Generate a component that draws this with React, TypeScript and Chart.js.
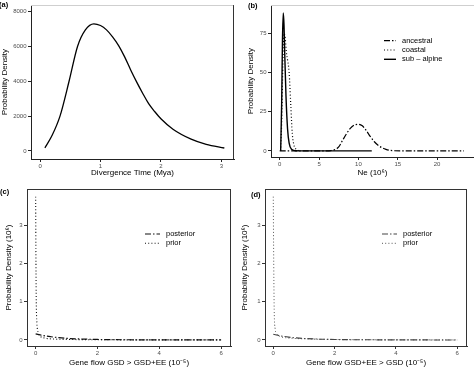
import React, { useEffect, useRef } from "react";
import { Chart, registerables } from "chart.js";
Chart.register(...registerables);

const FONT = "'Liberation Sans', Arial, Helvetica, sans-serif";

// ---------- Panel (a): divergence time ----------
const divTimeX = [0.08, 0.2, 0.33, 0.48, 0.62, 0.75, 0.89, 1.0, 1.1, 1.2, 1.3, 1.4, 1.5, 1.6, 1.7, 1.8, 1.9, 2.0, 2.2, 2.5, 2.75, 3.05];
const divTimeDensity = [180, 900, 2000, 4000, 6000, 6950, 7300, 7200, 6950, 6550, 6050, 5400, 4650, 3950, 3300, 2700, 2250, 1850, 1250, 680, 380, 170];
const divTimeXTicks = [0, 1, 2, 3];
const divTimeYTicks = [0, 2000, 4000, 6000, 8000];

// ---------- Panel (b): Ne ----------
const neAncestralX = [0, 6, 6.5, 7, 7.5, 8, 8.5, 9, 9.5, 10, 10.5, 11, 11.5, 12, 12.5, 13, 13.5, 14, 14.5, 15.5, 23.4];
const neAncestralY = [0, 0, 0.2, 0.8, 2.5, 6.8, 11, 14.5, 16.5, 17, 16, 13, 9.2, 6, 3.6, 2, 1, 0.4, 0.1, 0, 0];
const neCoastalX = [0.12, 0.25, 0.4, 0.55, 0.7, 0.85, 1.0, 1.2, 1.4, 1.6, 1.8, 2.1, 2.5];
const neCoastalY = [0, 18, 55, 75, 72, 63, 58, 50, 30, 11, 4, 1, 0];
const neSubAlpineX = [0.12, 0.25, 0.35, 0.45, 0.55, 0.65, 0.8, 1.0, 1.2, 1.5, 2.0, 2.5, 11.7];
const neSubAlpineY = [0, 30, 70, 88, 80, 60, 35, 14, 5, 1, 0.1, 0, 0];
const neXTicks = [0, 5, 10, 15, 20];
const neYTicks = [0, 25, 50, 75];

// ---------- Panel (c): gene flow GSD > GSD+EE ----------
const gfcPosteriorX = [0, 0.1, 0.25, 0.5, 0.75, 1, 1.5, 2, 3, 4, 5, 6];
const gfcPosteriorY = [0.16, 0.14, 0.115, 0.085, 0.06, 0.043, 0.025, 0.014, 0.006, 0.003, 0.002, 0.001];
const gfcPriorX = [0, 0.01, 0.02, 0.04, 0.08, 0.15, 0.3, 0.6, 1, 2, 4, 6];
const gfcPriorY = [3.75, 2.0, 1.0, 0.45, 0.2, 0.1, 0.05, 0.025, 0.015, 0.007, 0.003, 0.002];

// ---------- Panel (d): gene flow GSD+EE > GSD ----------
const gfdPosteriorX = [0, 0.1, 0.25, 0.5, 0.75, 1, 1.5, 2, 3, 4, 5, 6];
const gfdPosteriorY = [0.15, 0.13, 0.105, 0.075, 0.055, 0.04, 0.023, 0.013, 0.006, 0.003, 0.002, 0.001];
const gfdPriorX = [0, 0.01, 0.03, 0.06, 0.1, 0.2, 0.4, 0.7, 1, 1.5, 2, 3, 4, 6];
const gfdPriorY = [3.75, 2.5, 0.8, 0.3, 0.18, 0.1, 0.06, 0.04, 0.03, 0.02, 0.013, 0.007, 0.004, 0.002];

const gfXTicks = [0, 2, 4, 6];
const gfYTicks = [0, 1, 2, 3];

const DOTDASH = [6, 2, 1.5, 2];
const DOTTED = [1, 2.2];

type Series = { label: string; x: number[]; y: number[]; color: string; width: number; dash: number[] };

type PanelSpec = {
  left: number; top: number; w: number; h: number;
  pad: { left: number; top: number; right: number; bottom: number };
  yW: number; xH: number;
  xMin: number; xMax: number; yMin: number; yMax: number;
  xTicks: number[]; yTicks: number[];
  xTitle: string; yTitle: string; xTitlePad: number; yTitlePad: number;
  series: Series[];
  legend?: { x: number; y: number; gap: number; len: number };
  box: { top: string; right: string | null };
  axisColor: string;
};

const boxPlugin = {
  id: "panelBox",
  afterDraw(chart: any, _a: any, opts: any) {
    const { ctx, chartArea: a } = chart;
    ctx.save();
    ctx.lineWidth = 1;
    ctx.setLineDash([]);
    if (opts.top) {
      ctx.strokeStyle = opts.top;
      ctx.beginPath();
      ctx.moveTo(a.left, Math.round(a.top) + 0.5);
      ctx.lineTo(a.right, Math.round(a.top) + 0.5);
      ctx.stroke();
    }
    if (opts.right) {
      ctx.strokeStyle = opts.right;
      ctx.beginPath();
      ctx.moveTo(Math.round(a.right) - 0.5, a.top);
      ctx.lineTo(Math.round(a.right) - 0.5, a.bottom);
      ctx.stroke();
    }
    ctx.restore();
  },
};

const insideLegend = {
  id: "insideLegend",
  afterDraw(chart: any, _a: any, opts: any) {
    if (!opts || !opts.show) return;
    const ctx = chart.ctx;
    ctx.save();
    chart.data.datasets.forEach((ds: any, i: number) => {
      const y = opts.y + i * opts.gap;
      ctx.strokeStyle = ds.borderColor;
      ctx.lineWidth = ds.borderWidth;
      ctx.setLineDash(ds.borderDash || []);
      ctx.beginPath();
      ctx.moveTo(opts.x, y);
      ctx.lineTo(opts.x + opts.len, y);
      ctx.stroke();
      ctx.setLineDash([]);
      ctx.fillStyle = "#000";
      ctx.font = `7.5px ${FONT}`;
      ctx.textBaseline = "middle";
      ctx.textAlign = "left";
      ctx.fillText(ds.label, opts.x + opts.len + 6, y);
    });
    ctx.restore();
  },
};

function Panel({ spec }: { spec: PanelSpec }) {
  const ref = useRef<HTMLCanvasElement | null>(null);
  useEffect(() => {
    if (!ref.current) return;
    const s = spec;
    const tickFont = { family: FONT, size: 6 };
    const titleFont = { family: FONT, size: 8 };
    const chart = new Chart(ref.current, {
      type: "line",
      data: {
        datasets: s.series.map((sr) => ({
          label: sr.label,
          data: sr.x.map((v, i) => ({ x: v, y: sr.y[i] })),
          borderColor: sr.color,
          borderWidth: sr.width,
          borderDash: sr.dash,
          pointRadius: 0,
          fill: false,
          cubicInterpolationMode: "monotone" as const,
        })),
      },
      options: {
        animation: false,
        responsive: false,
        devicePixelRatio: 1,
        layout: { padding: s.pad },
        plugins: {
          legend: { display: false },
          tooltip: { enabled: false },
          panelBox: s.box,
          insideLegend: s.legend ? { show: true, ...s.legend } : { show: false },
        } as any,
        scales: {
          x: {
            type: "linear",
            min: s.xMin,
            max: s.xMax,
            afterBuildTicks: (ax: any) => { ax.ticks = s.xTicks.map((v) => ({ value: v })); },
            afterFit: (ax: any) => { ax.height = s.xH; },
            ticks: { font: tickFont, color: "#4d4d4d", padding: 1, maxRotation: 0, autoSkip: false, callback: (v: any) => String(v) },
            grid: { drawOnChartArea: false, drawTicks: true, tickLength: 3, color: s.axisColor },
            border: { display: true, color: s.axisColor, width: 1 },
            title: { display: true, text: s.xTitle, font: titleFont, color: "#000", padding: { top: 0, bottom: s.xTitlePad } },
          },
          y: {
            type: "linear",
            min: s.yMin,
            max: s.yMax,
            afterBuildTicks: (ax: any) => { ax.ticks = s.yTicks.map((v) => ({ value: v })); },
            afterFit: (ax: any) => { ax.width = s.yW; },
            ticks: { font: tickFont, color: "#4d4d4d", padding: 1.5, autoSkip: false, callback: (v: any) => String(v) },
            grid: { drawOnChartArea: false, drawTicks: true, tickLength: 3, color: s.axisColor },
            border: { display: true, color: s.axisColor, width: 1 },
            title: { display: true, text: s.yTitle, font: titleFont, color: "#000", padding: { top: s.yTitlePad, bottom: 0 } },
          },
        },
      } as any,
      plugins: [boxPlugin, insideLegend],
    });
    return () => chart.destroy();
  }, [spec]);
  return (
    <canvas
      ref={ref}
      width={spec.w}
      height={spec.h}
      style={{ position: "absolute", left: spec.left, top: spec.top, width: spec.w, height: spec.h }}
    />
  );
}

const panels: PanelSpec[] = [
  {
    left: 0, top: 0, w: 237, h: 180,
    pad: { left: 0, top: 0, right: 3, bottom: 0 }, yW: 31, xH: 21,
    xMin: -0.15, xMax: 3.21, yMin: -461, yMax: 8372,
    xTicks: divTimeXTicks, yTicks: divTimeYTicks,
    xTitle: "Divergence Time (Mya)", yTitle: "Probability Density", xTitlePad: 2.2, yTitlePad: 0,
    series: [{ label: "divergence", x: divTimeX, y: divTimeDensity, color: "#000", width: 1.3, dash: [] }],
    box: { top: "#cfcfcf", right: "#333" },
    axisColor: "#222",
  },
  {
    left: 237, top: 0, w: 237, h: 180,
    pad: { left: 0, top: 0, right: 0, bottom: 0 }, yW: 34, xH: 23,
    xMin: -1.105, xMax: 24.69, yMin: -3.9, yMax: 93,
    xTicks: neXTicks, yTicks: neYTicks,
    xTitle: "Ne (10⁶)", yTitle: "Probability Density", xTitlePad: 2.2, yTitlePad: 8.7,
    series: [
      { label: "ancestral", x: neAncestralX, y: neAncestralY, color: "#000", width: 1.2, dash: DOTDASH },
      { label: "coastal", x: neCoastalX, y: neCoastalY, color: "#000", width: 1.2, dash: DOTTED },
      { label: "sub – alpine", x: neSubAlpineX, y: neSubAlpineY, color: "#000", width: 1.4, dash: [] },
    ],
    legend: { x: 147, y: 40.7, gap: 9.3, len: 12 },
    box: { top: "#cfcfcf", right: null },
    axisColor: "#222",
  },
  {
    left: 0, top: 180, w: 237, h: 189,
    pad: { left: 0, top: 9, right: 6, bottom: 0 }, yW: 27, xH: 23,
    xMin: -0.28, xMax: 6.32, yMin: -0.157, yMax: 3.95,
    xTicks: gfXTicks, yTicks: gfYTicks,
    xTitle: "Gene flow GSD > GSD+EE (10⁻⁵)", yTitle: "Probability Density (10⁶)", xTitlePad: 1.5, yTitlePad: 4,
    series: [
      { label: "posterior", x: gfcPosteriorX, y: gfcPosteriorY, color: "#111", width: 1.2, dash: DOTDASH },
      { label: "prior", x: gfcPriorX, y: gfcPriorY, color: "#111", width: 1.1, dash: DOTTED },
    ],
    legend: { x: 145, y: 54, gap: 9.3, len: 15 },
    box: { top: "#333", right: "#333" },
    axisColor: "#333",
  },
  {
    left: 237, top: 180, w: 237, h: 189,
    pad: { left: 0, top: 9, right: 7, bottom: 0 }, yW: 28, xH: 23,
    xMin: -0.27, xMax: 6.32, yMin: -0.157, yMax: 3.95,
    xTicks: gfXTicks, yTicks: gfYTicks,
    xTitle: "Gene flow GSD+EE > GSD (10⁻⁵)", yTitle: "Probability Density (10⁶)", xTitlePad: 1.5, yTitlePad: 2.7,
    series: [
      { label: "posterior", x: gfdPosteriorX, y: gfdPosteriorY, color: "#444", width: 1.1, dash: DOTDASH },
      { label: "prior", x: gfdPriorX, y: gfdPriorY, color: "#555", width: 1.0, dash: DOTTED },
    ],
    legend: { x: 145, y: 54, gap: 9.3, len: 15 },
    box: { top: "#333", right: "#333" },
    axisColor: "#333",
  },
];

const panelLabels = [
  { text: "(a)", left: -1, top: 1 },
  { text: "(b)", left: 248, top: 2 },
  { text: "(c)", left: 0, top: 188 },
  { text: "(d)", left: 251, top: 191 },
];

export default function App() {
  return (
    <div style={{ position: "absolute", left: 0, top: 0, width: 474, height: 369, background: "#fff", overflow: "hidden" }}>
      {panels.map((p, i) => (
        <Panel key={i} spec={p} />
      ))}
      {panelLabels.map((l) => (
        <div
          key={l.text}
          style={{
            position: "absolute", left: l.left, top: l.top, fontFamily: FONT, fontWeight: "bold",
            fontSize: "7.5px", lineHeight: "8px", color: "#000", whiteSpace: "nowrap",
          }}
        >
          {l.text}
        </div>
      ))}
    </div>
  );
}
